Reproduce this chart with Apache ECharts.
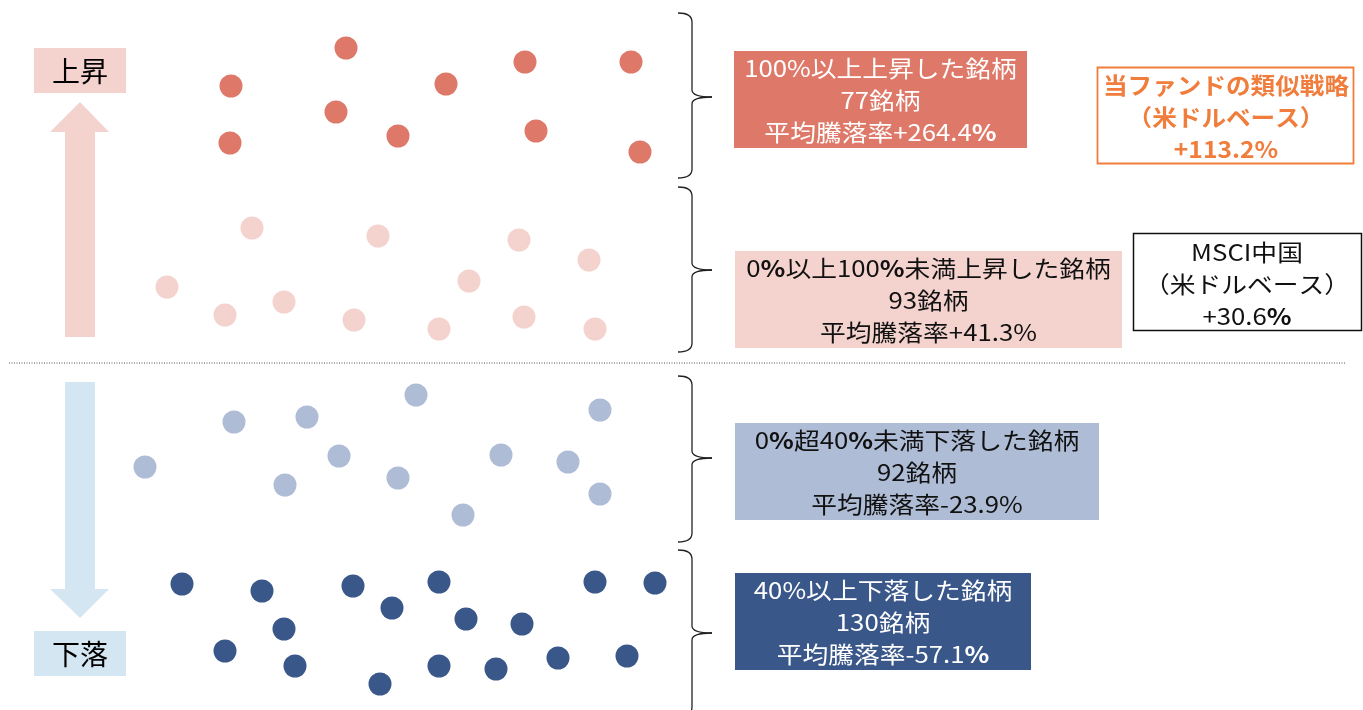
<!DOCTYPE html>
<html><head><meta charset="utf-8">
<script src="https://cdn.jsdelivr.net/npm/echarts@6/dist/echarts.min.js"></script>
<style>html,body{margin:0;padding:0;background:#fff}#c{width:1363px;height:710px}</style>
</head><body><div id="c"></div>
<script>
// ---- data ----
const groupNames = ['100%以上上昇', '0%以上100%未満上昇', '0%超40%未満下落', '40%以上下落'];
const riseStrong = [[346,48],[525,62],[631,62],[231,86],[446,84],[336,112],[398,136],[536,131],[230,143],[640,152]];
const riseMild = [[252,228],[378,236],[519,240],[589,260],[167,287],[469,281],[225,315],[284,302],[354,320],[439,329],[524,317],[595,329]];
const fallMild = [[416,395],[234,422],[307,417],[600,410],[145,467],[339,456],[285,485],[398,478],[501,455],[568,462],[600,494],[463,515]];
const fallStrong = [[182,584],[262,591],[353,586],[439,582],[595,582],[655,583],[392,608],[466,619],[522,624],[284,629],[225,651],[295,666],[380,684],[439,666],[496,669],[558,658],[627,656]];
const groupLabels = [
  ['100%以上上昇した銘柄', '77銘柄', '平均騰落率+264.4{b|%}'],
  ['0{b|%}以上100{b|%}未満上昇した銘柄', '93銘柄', '平均騰落率+41.3%'],
  ['0{b|%}超40{b|%}未満下落した銘柄', '92銘柄', '平均騰落率-23.9%'],
  ['40%以上下落した銘柄', '130銘柄', '平均騰落率-57.1{b|%}']
];
const fundLabel = ['当ファンドの類似戦略', '（米ドルベース）', '+113.2%'];
const indexLabel = ['MSCI中国', '（米ドルベース）', '+30.6{b|%}'];
const upLabel = '上昇';
const downLabel = '下落';

// ---- styles ----
const dotColors = ['#DE7868', '#F4D3CE', '#AEBCD6', '#3A5789'];
const boxTextColors = ['#ffffff', '#111111', '#111111', '#ffffff'];
const boxRects = [[734,51,293,97],[735,251,387,97],[735,423,364,97],[735,573,296,97]];
const braces = [[13,97,178],[187,270,352],[376,458,542],[550,633,716]];
const FONT = '"Noto Sans CJK JP","Noto Sans",sans-serif';
const SX = 1.12;

const chart = echarts.init(document.getElementById('c'));
const graphics = [];

// dotted separator
graphics.push({type:'line', shape:{x1:9,y1:363,x2:1346,y2:363}, style:{stroke:'#555',lineWidth:1,lineDash:[1,1.5]}, z:1});

// arrows
graphics.push({type:'polygon', shape:{points:[[80,102],[109,132],[95,132],[95,337],[65,337],[65,132],[50,132]]}, style:{fill:'#F4D3CF'}});
graphics.push({type:'polygon', shape:{points:[[65,382],[95,382],[95,589],[109,589],[80,618],[50,589],[65,589]]}, style:{fill:'#D4E6F2'}});
graphics.push({type:'rect', shape:{x:34,y:48,width:92,height:45}, style:{fill:'#F4D3CF'}});
graphics.push({type:'text', x:80, y:71, style:{text:upLabel, font:'28px '+FONT, fill:'#000', align:'center', verticalAlign:'middle'}});
graphics.push({type:'rect', shape:{x:34,y:631,width:92,height:45}, style:{fill:'#D4E6F2'}});
graphics.push({type:'text', x:80, y:654, style:{text:downLabel, font:'28px '+FONT, fill:'#000', align:'center', verticalAlign:'middle'}});

// braces
const bs = {stroke:'#222', lineWidth:1.3};
braces.forEach(function(b){
  const y0=b[0], ym=b[1], y1=b[2], xl=678, xv=692, xt=712;
  graphics.push({type:'bezierCurve', shape:{x1:xl,y1:y0,x2:xv,y2:y0+9,cpx1:xv,cpy1:y0}, style:bs});
  graphics.push({type:'line', shape:{x1:xv,y1:y0+9,x2:xv,y2:ym-7}, style:bs});
  graphics.push({type:'bezierCurve', shape:{x1:xv,y1:ym-7,x2:xt,y2:ym,cpx1:xv,cpy1:ym}, style:bs});
  graphics.push({type:'bezierCurve', shape:{x1:xt,y1:ym,x2:xv,y2:ym+7,cpx1:xv,cpy1:ym}, style:bs});
  graphics.push({type:'line', shape:{x1:xv,y1:ym+7,x2:xv,y2:y1-9}, style:bs});
  graphics.push({type:'bezierCurve', shape:{x1:xv,y1:y1-9,x2:xl,y2:y1,cpx1:xv,cpy1:y1}, style:bs});
});

// group boxes
boxRects.forEach(function(r,i){
  graphics.push({type:'rect', shape:{x:r[0],y:r[1],width:r[2],height:r[3]}, style:{fill:dotColors[i]}});
  graphics.push({type:'text', x:r[0]+r[2]/2, y:r[1]+r[3]/2+1, scaleX:SX, style:{
    text: groupLabels[i].join('\n'), font:'23px '+FONT, fill:boxTextColors[i], align:'center', verticalAlign:'middle', lineHeight:32,
    rich:{b:{fontWeight:'bold', fontSize:23, fill:boxTextColors[i], lineHeight:32, fontFamily:FONT}}
  }});
});

// fund box
graphics.push({type:'rect', shape:{x:1097.5,y:67.5,width:256,height:96}, style:{fill:'#fff',stroke:'#F07D3C',lineWidth:1.8}});
graphics.push({type:'text', x:1226, y:117, scaleX:1.07, style:{text:fundLabel.join('\n'), font:'bold 23px '+FONT, fill:'#F07D3C', align:'center', verticalAlign:'middle', lineHeight:32}});
// index box
graphics.push({type:'rect', shape:{x:1133.5,y:233.5,width:228,height:97}, style:{fill:'#fff',stroke:'#111',lineWidth:1.5}});
graphics.push({type:'text', x:1247, y:284, scaleX:SX, style:{
  text:indexLabel.join('\n'), font:'23px '+FONT, fill:'#111', align:'center', verticalAlign:'middle', lineHeight:32,
  rich:{b:{fontWeight:'bold', fontSize:23, fill:'#111', lineHeight:32, fontFamily:FONT}}
}});

const seriesData = [riseStrong, riseMild, fallMild, fallStrong];
chart.setOption({
  animation:false,
  grid:{left:0,right:0,top:0,bottom:0},
  xAxis:{type:'value',min:0,max:1363,show:false},
  yAxis:{type:'value',min:0,max:710,inverse:true,show:false},
  series: seriesData.map(function(d,i){
    return {type:'scatter', name:groupNames[i], data:d, symbol:'circle', symbolSize:23, itemStyle:{color:dotColors[i], opacity:1}, z:5};
  }),
  graphic: graphics
});
</script></body></html>
